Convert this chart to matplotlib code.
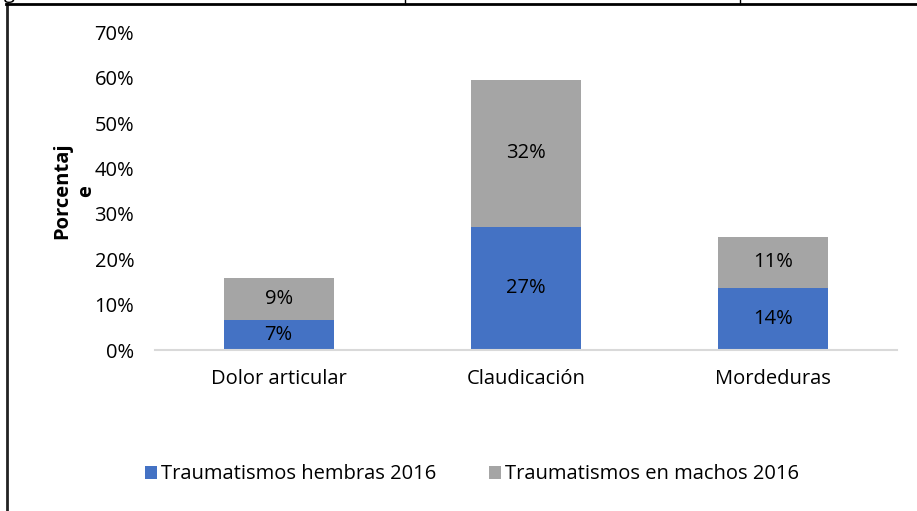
import numpy as np
import matplotlib
matplotlib.use("Agg")
import matplotlib.pyplot as plt
from matplotlib.lines import Line2D

# Data (fractions)
categories = ["Dolor articular", "Claudicación", "Mordeduras"]
hembras = [0.067, 0.272, 0.136]
machos = [0.092, 0.322, 0.114]
series_names = ["Traumatismos hembras 2016", "Traumatismos en machos 2016"]
yticks = [0, 0.1, 0.2, 0.3, 0.4, 0.5, 0.6, 0.7]

plt.rcParams["font.family"] = ["Open Sans", "DejaVu Sans"]
fs = 14.5

fig = plt.figure(figsize=(9.17, 5.11), dpi=100)
ax = fig.add_axes([0.169, 0.315, 0.809, 0.622])

x = np.arange(len(categories))
w = 0.445
b1 = ax.bar(x, hembras, w, color="#4472C4", label=series_names[0])
b2 = ax.bar(x, machos, w, bottom=hembras, color="#A5A5A5", label=series_names[1])

for bars, vals, base in [(b1, hembras, [0, 0, 0]), (b2, machos, hembras)]:
    for rect, v, b in zip(bars, vals, base):
        ax.text(rect.get_x() + rect.get_width() / 2, b + v / 2, f"{v:.0%}",
                ha="center", va="center", fontsize=fs, color="#000000")

ax.set_xlim(-0.5, 2.5)
ax.set_ylim(0, 0.7)
ax.set_yticks(yticks)
ax.set_yticklabels([f"{t:.0%}" for t in yticks])
ax.set_xticks(x)
ax.set_xticklabels(categories)
ax.tick_params(axis="both", length=0, labelsize=fs, colors="#000000")
ax.tick_params(axis="y", pad=15)
ax.tick_params(axis="x", pad=14)
for s in ["top", "right", "left"]:
    ax.spines[s].set_visible(False)
ax.spines["bottom"].set_color("#D9D9D9")
ax.spines["bottom"].set_linewidth(1.5)

ax.set_ylabel("Porcentaj\ne", fontsize=fs, fontweight="bold", linespacing=1.25)
ax.yaxis.set_label_coords(-0.079, 0.50)

fig.legend(handles=[b1, b2], loc="center", bbox_to_anchor=(0.515, 0.072),
           ncol=2, frameon=False, fontsize=fs, handlelength=0.6,
           handleheight=0.6, handletextpad=0.2, columnspacing=2.6)

# frame and cut-off caption of the page
fig.add_artist(Line2D([7 / 917, 7 / 917], [0, 1 - 4 / 511], transform=fig.transFigure,
                      color="#222222", lw=2))
fig.add_artist(Line2D([6 / 917, 1], [1 - 4 / 511, 1 - 4 / 511], transform=fig.transFigure,
                      color="#000000", lw=2))
for xp in [405, 740]:
    fig.add_artist(Line2D([xp / 917, xp / 917], [1 - 4 / 511, 1], transform=fig.transFigure,
                          color="#000000", lw=1))
fig.text(4 / 917, 1 + 2 / 511, "g", fontsize=fs, va="baseline", ha="left")

fig.savefig("out.png", dpi=100)
